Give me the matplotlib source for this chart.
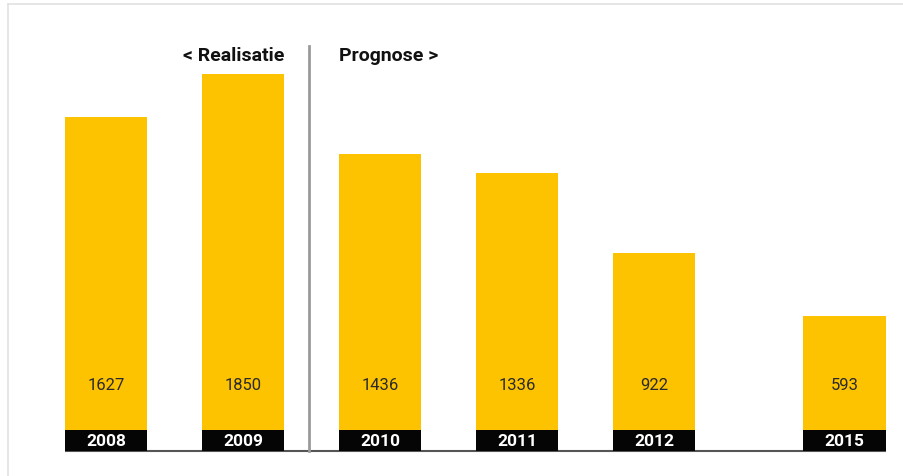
#!/usr/bin/env python3

import matplotlib
matplotlib.use("Agg")
import matplotlib.pyplot as plt
from matplotlib.lines import Line2D


# chart data
years      = ["2008", "2009", "2010", "2011", "2012", "2015"]
values     = [1627, 1850, 1436, 1336, 922, 593]
header_l   = "< Realisatie"
header_r   = "Prognose >"

# styling
yellow     = "#FDC300"
band_black = "#050505"
font       = ["Roboto", "DejaVu Sans"]

plt.rcParams['font.family'] = font

fig = plt.figure(figsize=(9.04, 4.77), dpi=100)
ax = fig.add_axes([0, 0, 1, 1])

# layout: 2015 sits after a wider gap
pos = [0, 1, 2, 3, 4, 5.39]
bar_w = 0.6
band_h = 109   # depth of black year band, in value units

ax.bar(pos, values, width=bar_w, color=yellow, align='center', zorder=2)
ax.bar(pos, [band_h] * len(pos), bottom=-band_h, width=bar_w,
       color=band_black, zorder=2)

for p, v, yr in zip(pos, values, years):
  ax.text(p, 234, str(v), ha='center', va='center', fontsize=12,
          color='#2a2a2a', zorder=3)
  ax.text(p, -band_h / 2, yr, ha='center', va='center', fontsize=12.5,
          color='white', fontweight='bold', zorder=3)

# baseline under the bands
ax.plot([pos[0] - bar_w / 2, pos[-1] + bar_w / 2], [-band_h, -band_h],
        color='#555555', lw=1.5, zorder=1, solid_capstyle='butt')

# divider between realisation and forecast
div_x = 1.48
ax.plot([div_x, div_x], [-band_h, 1995], color='#9a9a9a', lw=2, zorder=1)

ax.text(pos[1] + bar_w / 2, 1950, header_l, ha='right', va='center',
        fontsize=14, fontweight='bold', color='#111111')
ax.text(pos[2] - bar_w / 2, 1950, header_r, ha='left', va='center',
        fontsize=14, fontweight='bold', color='#111111')

ax.set_xlim(-0.774, 5.825)
ax.set_ylim(-239, 2240)
ax.axis('off')

# faint frame on top and left
fig.add_artist(Line2D([8 / 904, 1], [1 - 5 / 477, 1 - 5 / 477],
                      color='#e2e2e2', lw=1.2, transform=fig.transFigure))
fig.add_artist(Line2D([8 / 904, 8 / 904], [0, 1 - 5 / 477],
                      color='#e2e2e2', lw=1.2, transform=fig.transFigure))

fig.savefig("out.png", dpi=100, facecolor='white')
